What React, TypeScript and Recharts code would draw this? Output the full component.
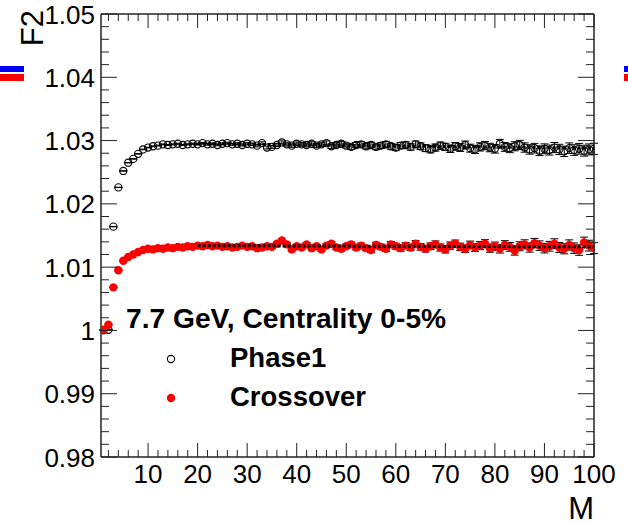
import React from 'react';
import { ComposedChart, Scatter, ErrorBar, XAxis, YAxis } from 'recharts';

// M bins
const mValues = [
  1, 2, 3, 4, 5, 6, 7, 8, 9, 10, 11, 12, 13, 14, 15, 16, 17, 18, 19, 20,
  21, 22, 23, 24, 25, 26, 27, 28, 29, 30, 31, 32, 33, 34, 35, 36, 37, 38, 39, 40,
  41, 42, 43, 44, 45, 46, 47, 48, 49, 50, 51, 52, 53, 54, 55, 56, 57, 58, 59, 60,
  61, 62, 63, 64, 65, 66, 67, 68, 69, 70, 71, 72, 73, 74, 75, 76, 77, 78, 79, 80,
  81, 82, 83, 84, 85, 86, 87, 88, 89, 90, 91, 92, 93, 94, 95, 96, 97, 98, 99, 100,
];

// F2 values
const phase1 = [
  1.0000, 1.0001, 1.0164, 1.0226, 1.0252, 1.0265, 1.0271, 1.0279, 1.0286, 1.0289,
  1.0291, 1.0292, 1.0294, 1.0293, 1.0294, 1.0295, 1.0293, 1.0294, 1.0295, 1.0294,
  1.0296, 1.0294, 1.0295, 1.0293, 1.0295, 1.0296, 1.0294, 1.0295, 1.0293, 1.0295,
  1.0294, 1.0292, 1.0296, 1.0289, 1.0290, 1.0293, 1.0297, 1.0294, 1.0292, 1.0295,
  1.0294, 1.0293, 1.0295, 1.0292, 1.0294, 1.0296, 1.0291, 1.0293, 1.0295, 1.0292,
  1.0290, 1.0293, 1.0294, 1.0291, 1.0293, 1.0290, 1.0292, 1.0294, 1.0291, 1.0289,
  1.0292, 1.0293, 1.0290, 1.0294, 1.0291, 1.0288, 1.0286, 1.0289, 1.0292, 1.0290,
  1.0287, 1.0291, 1.0289, 1.0293, 1.0288, 1.0286, 1.0290, 1.0292, 1.0289, 1.0287,
  1.0295, 1.0290, 1.0288, 1.0291, 1.0293, 1.0289, 1.0286, 1.0288, 1.0284, 1.0287,
  1.0285, 1.0289, 1.0286, 1.0283, 1.0288, 1.0285, 1.0287, 1.0284, 1.0286, 1.0287,
];
const phase1Err = [
  0.00002, 0.00002, 0.00003, 0.00003, 0.00003, 0.00004, 0.00004, 0.00004, 0.00005, 0.00005,
  0.00006, 0.00006, 0.00007, 0.00007, 0.00008, 0.00008, 0.00009, 0.00009, 0.0001, 0.0001,
  0.00011, 0.00012, 0.00012, 0.00013, 0.00014, 0.00014, 0.00015, 0.00016, 0.00017, 0.00018,
  0.00019, 0.0002, 0.00021, 0.00022, 0.00023, 0.00024, 0.00025, 0.00026, 0.00027, 0.00028,
  0.00029, 0.0003, 0.00031, 0.00032, 0.00033, 0.00034, 0.00035, 0.00036, 0.00037, 0.00038,
  0.00039, 0.0004, 0.00041, 0.00042, 0.00043, 0.00044, 0.00045, 0.00046, 0.00047, 0.00048,
  0.00049, 0.0005, 0.00051, 0.00052, 0.00053, 0.00054, 0.00055, 0.00056, 0.00057, 0.00058,
  0.00059, 0.0006, 0.00061, 0.00062, 0.00063, 0.00064, 0.00065, 0.00066, 0.00067, 0.00068,
  0.00069, 0.0007, 0.00071, 0.00072, 0.00073, 0.00074, 0.00075, 0.00076, 0.00077, 0.00078,
  0.00079, 0.0008, 0.00081, 0.00082, 0.00083, 0.00084, 0.00085, 0.00086, 0.00087, 0.00088,
];
const crossover = [
  1.0001, 1.0009, 1.0068, 1.0095, 1.0110, 1.0116, 1.0120, 1.0124, 1.0127, 1.0129,
  1.0128, 1.0130, 1.0129, 1.0131, 1.0130, 1.0132, 1.0131, 1.0133, 1.0132, 1.0134,
  1.0133, 1.0135, 1.0133, 1.0134, 1.0132, 1.0133, 1.0131, 1.0132, 1.0134, 1.0132,
  1.0133, 1.0130, 1.0131, 1.0133, 1.0132, 1.0137, 1.0142, 1.0136, 1.0128, 1.0133,
  1.0131, 1.0136, 1.0130, 1.0133, 1.0128, 1.0134, 1.0137, 1.0131, 1.0129, 1.0133,
  1.0136, 1.0131, 1.0134, 1.0130, 1.0127, 1.0135, 1.0132, 1.0129, 1.0136, 1.0133,
  1.0130, 1.0134, 1.0131, 1.0137, 1.0132, 1.0129, 1.0133, 1.0136, 1.0131, 1.0128,
  1.0134, 1.0137, 1.0132, 1.0129, 1.0135, 1.0131, 1.0134, 1.0137, 1.0130, 1.0133,
  1.0129, 1.0135, 1.0132, 1.0126, 1.0133, 1.0136, 1.0131, 1.0138, 1.0134, 1.0130,
  1.0133, 1.0137, 1.0131, 1.0129, 1.0135, 1.0130, 1.0127, 1.0139, 1.0134, 1.0130,
];
const crossoverErr = [
  0.00002, 0.00002, 0.00003, 0.00003, 0.00003, 0.00004, 0.00004, 0.00004, 0.00005, 0.00005,
  0.00006, 0.00006, 0.00007, 0.00007, 0.00008, 0.00008, 0.00009, 0.00009, 0.0001, 0.0001,
  0.00011, 0.00011, 0.00012, 0.00012, 0.00013, 0.00013, 0.00014, 0.00014, 0.00015, 0.00016,
  0.00017, 0.00018, 0.00019, 0.0002, 0.00021, 0.00022, 0.00023, 0.00024, 0.00025, 0.00026,
  0.00027, 0.00028, 0.00029, 0.0003, 0.00031, 0.00032, 0.00033, 0.00034, 0.00035, 0.00036,
  0.00037, 0.00038, 0.00039, 0.0004, 0.00041, 0.00042, 0.00043, 0.00044, 0.00045, 0.00046,
  0.00047, 0.00048, 0.00049, 0.0005, 0.00051, 0.00052, 0.00053, 0.00054, 0.00055, 0.00056,
  0.00057, 0.00058, 0.00059, 0.0006, 0.00061, 0.00062, 0.00063, 0.00064, 0.00065, 0.00066,
  0.00067, 0.00068, 0.00069, 0.0007, 0.00071, 0.00072, 0.00073, 0.00074, 0.00075, 0.00076,
  0.00077, 0.00078, 0.00079, 0.0008, 0.00081, 0.00082, 0.00083, 0.00084, 0.00085, 0.00086,
];

// straight-line fits drawn from M=20 to M=100
const fitM = [20, 100];
const phase1Fit = [1.0295, 1.0288];
const crossoverFit = [1.0134, 1.0132];

const xMajorTicks = [10, 20, 30, 40, 50, 60, 70, 80, 90, 100];
const yMajorTicks = [0.98, 0.99, 1, 1.01, 1.02, 1.03, 1.04, 1.05];

// minor ticks: every 2 in M, every 0.002 in F2
const xTicks: number[] = [];
for (let v = 2; v <= 100; v += 2) xTicks.push(v);
const yTicks: number[] = [];
for (let i = 0; i <= 35; i++) yTicks.push(+(0.98 + i * 0.002).toFixed(3));

const phase1Data = mValues.map((m, i) => ({ x: m, y: phase1[i], err: phase1Err[i] }));
const crossoverData = mValues.map((m, i) => ({ x: m, y: crossover[i], err: crossoverErr[i] }));
const phase1FitData = fitM.map((m, i) => ({ x: m, y: phase1Fit[i] }));
const crossoverFitData = fitM.map((m, i) => ({ x: m, y: crossoverFit[i] }));

const W = 628;
const H = 524;
const font = '"Liberation Sans", Arial, Helvetica, sans-serif';
const frame = '#222';
const xDomain = [0.5, 100];
const yDomain = [0.98, 1.05];

const isMajorX = (v: number) => xMajorTicks.includes(v);
const isMajorY = (v: number) => yMajorTicks.some((t) => Math.abs(t - v) < 1e-6);
const fmtY = (v: number) => String(Math.round(v * 100) / 100);

// ROOT-style ticks pointing into the frame
const BottomTick = (p: any) => {
  const v = p.payload.value;
  const major = isMajorX(v);
  return (
    <g>
      <line x1={p.x} x2={p.x} y1={p.y} y2={p.y - (major ? 14 : 7)} stroke={frame} />
      {major && (
        <text x={p.x} y={p.y + 26} textAnchor="middle" fontSize={26} fontFamily={font} fill="#000">{v}</text>
      )}
    </g>
  );
};
const TopTick = (p: any) => {
  const major = isMajorX(p.payload.value);
  return <line x1={p.x} x2={p.x} y1={p.y} y2={p.y + (major ? 14 : 7)} stroke={frame} />;
};
const LeftTick = (p: any) => {
  const v = p.payload.value;
  const major = isMajorY(v);
  return (
    <g>
      <line x1={p.x} x2={p.x + (major ? 16 : 8)} y1={p.y} y2={p.y} stroke={frame} />
      {major && (
        <text x={p.x - 6} y={p.y + 9.5} textAnchor="end" fontSize={26} fontFamily={font} fill="#000">{fmtY(v)}</text>
      )}
    </g>
  );
};
const RightTick = (p: any) => {
  const major = isMajorY(p.payload.value);
  return <line x1={p.x} x2={p.x - (major ? 16 : 8)} y1={p.y} y2={p.y} stroke={frame} />;
};

const openCircle = (p: any) => (
  <circle cx={p.cx} cy={p.cy} r={3.6} fill="none" stroke="#000" strokeWidth={1.1} />
);
const redDot = (p: any) => <circle cx={p.cx} cy={p.cy} r={4.2} fill="#ff0000" />;
const noMarker = () => <g />;

export default function App() {
  const axisLine = { stroke: frame, strokeWidth: 1.5 };
  return (
    <div style={{ position: 'absolute', left: 0, top: 0, width: W, height: H, background: '#fff' }}>
      <ComposedChart width={W} height={H} margin={{ top: 13, right: 33, bottom: 66, left: 100 }}>
        <XAxis xAxisId={0} type="number" dataKey="x" domain={xDomain} allowDataOverflow
          ticks={xTicks} interval={0} height={1} tickSize={0} tickMargin={0} tickLine={false}
          tick={BottomTick} axisLine={axisLine} />
        <XAxis xAxisId="top" orientation="top" type="number" dataKey="x" domain={xDomain} allowDataOverflow
          ticks={xTicks} interval={0} height={1} tickSize={0} tickMargin={0} tickLine={false}
          tick={TopTick} axisLine={axisLine} />
        <YAxis yAxisId={0} type="number" dataKey="y" domain={yDomain} allowDataOverflow
          ticks={yTicks} interval={0} width={1} tickSize={0} tickMargin={0} tickLine={false}
          tick={LeftTick} axisLine={axisLine} />
        <YAxis yAxisId="right" orientation="right" type="number" dataKey="y" domain={yDomain} allowDataOverflow
          ticks={yTicks} interval={0} width={1} tickSize={0} tickMargin={0} tickLine={false}
          tick={RightTick} axisLine={axisLine} />

        <Scatter name="Phase1" data={phase1Data} dataKey="y" shape={openCircle} isAnimationActive={false}>
          <ErrorBar dataKey="err" direction="y" width={4} stroke="#000" strokeWidth={1} isAnimationActive={false} />
        </Scatter>
        <Scatter name="Crossover" data={crossoverData} dataKey="y" shape={redDot} isAnimationActive={false}>
          <ErrorBar dataKey="err" direction="y" width={4} stroke="#000" strokeWidth={1} isAnimationActive={false} />
        </Scatter>
        <Scatter data={phase1FitData} dataKey="y" shape={noMarker} isAnimationActive={false}
          line={{ stroke: '#000', strokeWidth: 3, strokeDasharray: '3 2' }} />
        <Scatter data={crossoverFitData} dataKey="y" shape={noMarker} isAnimationActive={false}
          line={{ stroke: '#000', strokeWidth: 3, strokeDasharray: '3 2' }} />
      </ComposedChart>

      <svg width={W} height={H} style={{ position: 'absolute', left: 0, top: 0, pointerEvents: 'none' }}>
        <text transform="translate(43,10) rotate(-90)" textAnchor="end" fontSize={31} fontFamily={font}>F2</text>
        <text x={594} y={519} textAnchor="end" fontSize={31} fontFamily={font}>M</text>
        <text x={126} y={328} fontSize={28.2} fontWeight="bold" fontFamily={font}>7.7 GeV, Centrality 0-5%</text>
        <circle cx={171} cy={359} r={3.6} fill="none" stroke="#000" strokeWidth={1.1} />
        <text x={230} y={367} fontSize={27.5} fontWeight="bold" fontFamily={font}>Phase1</text>
        <circle cx={171} cy={398} r={4.2} fill="#ff0000" />
        <text x={230} y={406} fontSize={27.5} fontWeight="bold" fontFamily={font}>Crossover</text>
        <rect x={0} y={66} width={24} height={6} fill="#0000ff" />
        <rect x={0} y={74} width={24} height={7} fill="#ff0000" />
        <rect x={624} y={66} width={4} height={6} fill="#0000ff" />
        <rect x={624} y={74} width={4} height={7} fill="#ff0000" />
      </svg>
    </div>
  );
}
